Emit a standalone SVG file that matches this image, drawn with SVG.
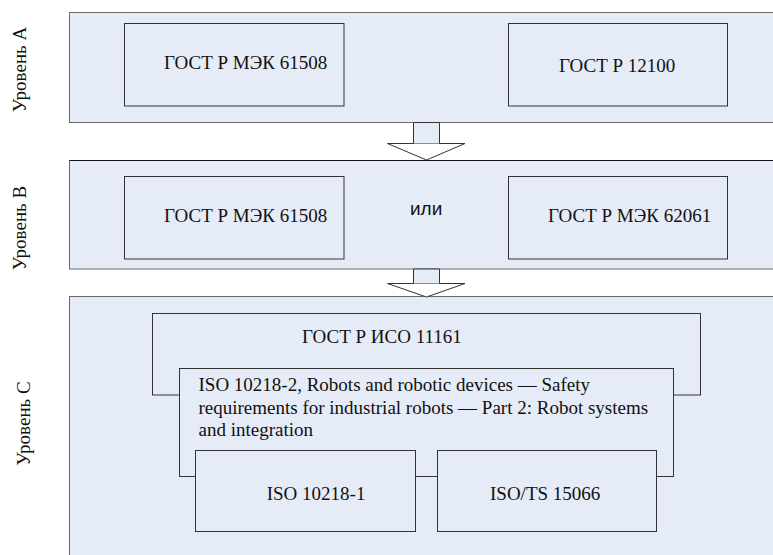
<svg xmlns="http://www.w3.org/2000/svg" width="773" height="555" viewBox="0 0 773 555">
<style>
.panel{fill:#E6ECF7;stroke:#6a6a6a;stroke-width:1}
.box{fill:#E6ECF7;stroke:#333;stroke-width:1}
.t{font-family:'Liberation Serif','Times New Roman',serif;font-size:19px;fill:#111}
.s{font-family:'Liberation Sans',Arial,sans-serif;font-size:19px;fill:#111}
.shaft{fill:#E6ECF7;stroke:#333;stroke-width:1}
.head{fill:#fff;stroke:#333;stroke-width:1}
</style>
<rect width="773" height="555" fill="#fff"/>
<g id="levelA">
<rect class="panel" x="69.5" y="12.5" width="710" height="110"/>
<text class="t" text-anchor="middle" transform="translate(25.5,69.5) rotate(-90)">Уровень А</text>
</g>
<g id="levelB">
<rect class="panel" x="69.5" y="160.5" width="710" height="108.5"/>
<line x1="69.5" y1="160.5" x2="773" y2="160.5" stroke="#111" stroke-width="1"/>
<text class="t" text-anchor="middle" transform="translate(25.5,228) rotate(-90)">Уровень В</text>
</g>
<g id="levelC">
<rect class="panel" x="69.5" y="296.5" width="710" height="270"/>
<text class="t" text-anchor="middle" transform="translate(30,423.5) rotate(-90)">Уровень С</text>
</g>
<g id="connectors">
<g id="arrow1">
<polygon class="head" points="387.5,143.5 465,143.5 426.5,160"/>
<polyline class="shaft" points="413.5,143.5 413.5,122.5 439.5,122.5 439.5,143.5"/>
</g>
<g id="arrow2">
<polygon class="head" points="387.5,283.5 465,283.5 426.5,297"/>
<polyline class="shaft" points="413.5,283.5 413.5,269 439.5,269 439.5,283.5"/>
</g>
</g>
<g id="a1"><rect class="box" x="124.5" y="23.5" width="219.5" height="82.5"/><text class="t" x="164" y="69">ГОСТ Р МЭК 61508</text></g>
<g id="a2"><rect class="box" x="508.5" y="23.5" width="219" height="82.5"/><text class="t" x="559" y="72">ГОСТ Р 12100</text></g>
<g id="b1"><rect class="box" x="124.5" y="176.5" width="219.5" height="82.5"/><text class="t" x="164" y="222">ГОСТ Р МЭК 61508</text></g>
<g id="or"><text class="s" x="410" y="215">или</text></g>
<g id="b2"><rect class="box" x="508.5" y="176.5" width="219" height="82.5"/><text class="t" x="548" y="222">ГОСТ Р МЭК 62061</text></g>
<g id="c11161"><rect class="box" x="152.5" y="313.5" width="548" height="81.5"/><text class="t" x="302" y="343">ГОСТ Р ИСО 11161</text></g>
<g id="c10218-2"><rect class="box" x="179.5" y="368.5" width="494" height="108"/>
<text class="t" x="198.5" y="391">ISO 10218-2, Robots and robotic devices — Safety</text>
<text class="t" x="198.5" y="413.5">requirements for industrial robots — Part 2: Robot systems</text>
<text class="t" x="198.5" y="436">and integration</text></g>
<g id="c10218-1"><rect class="box" x="195.5" y="450.5" width="220" height="81"/><text class="t" x="266.7" y="500">ISO 10218-1</text></g>
<g id="c15066"><rect class="box" x="437.5" y="450.5" width="219" height="81"/><text class="t" x="490" y="500">ISO/TS 15066</text></g>
</svg>
